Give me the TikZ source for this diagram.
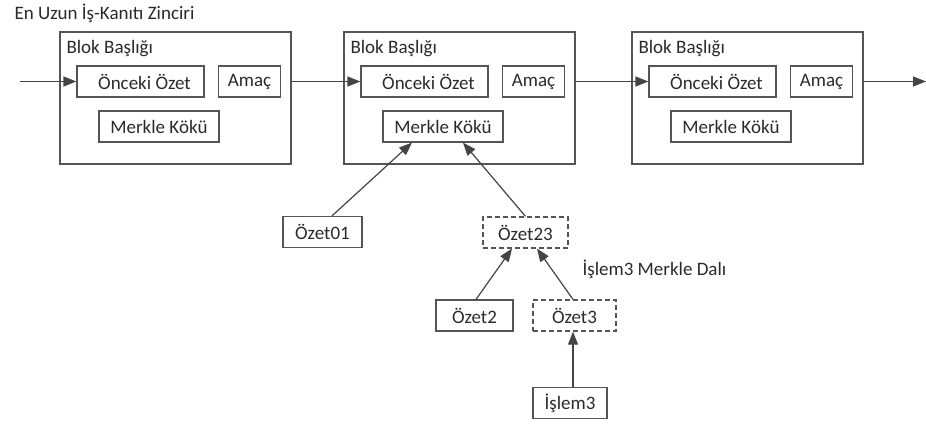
\documentclass[tikz,border=0pt]{standalone}
\usepackage{fontspec}
\setmainfont{Carlito}
\usetikzlibrary{arrows.meta}
\definecolor{edge}{HTML}{555555}
\definecolor{ink}{HTML}{2A2A2A}
\begin{document}
\begin{tikzpicture}[x=1pt,y=-1pt,
  font=\fontsize{19}{21}\selectfont, text=ink,
  box/.style={draw=edge, line width=1.2pt, rectangle, inner sep=0pt, minimum height=31pt},
  dbox/.style={box, dash pattern=on 5pt off 3pt},
  frame/.style={draw=edge, line width=1.2pt, rectangle, inner sep=0pt, minimum width=231pt, minimum height=132pt},
  link/.style={draw=edge!80!black, line width=1.2pt, -{Triangle[length=13pt,width=10pt]}}]
\useasboundingbox (0,0) rectangle (926,423);

\node[anchor=west] (title) at (11,13) {En Uzun İş-Kanıtı Zinciri};

% three block headers of the chain
\foreach \i/\dx in {1/0,2/284,3/572}{
  \node[frame] (b\i) at (175.5+\dx,98) {};
  \node[anchor=west] (h\i) at (63+\dx,49) {Blok Başlığı};
  \node[box, minimum width=127pt] (p\i) at (140.5+\dx,81.5) {\hspace*{8pt}Önceki Özet};
  \node[box, minimum width=62pt] (a\i) at (249.5+\dx,81.5) {Amaç};
  \node[box, minimum width=120pt] (m\i) at (159+\dx,126.5) {Merkle Kökü};
}

% Merkle tree under the middle block
\node[box, minimum width=79pt] (o01) at (322.5,232) {Özet01};
\node[dbox, minimum width=85pt] (o23) at (525.5,232.5) {Özet23};
\node[box, minimum width=77pt] (o2) at (474.5,315.5) {Özet2};
\node[dbox, minimum width=83pt] (o3) at (574.5,315.5) {Özet3};
\node[box, minimum width=74pt] (t3) at (570,403) {İşlem3};
\node[anchor=west] (branch) at (579,269) {İşlem3 Merkle Dalı};

% chain links
\coordinate (in) at (20,81.5);
\coordinate (out) at (926,81.5);
\draw[link] (in) -- (p1.west);
\draw[link] (p2.west -| b1.east) -- (p2.west);
\draw[link] (p3.west -| b2.east) -- (p3.west);
\draw[link] (p3.west -| b3.east) -- (out);

% tree links
\draw[link] ([xshift=9.5pt]o01.north) -- ([xshift=-31pt]m2.south);
\draw[link] (o23.north) -- ([xshift=20pt]m2.south);
\draw[link] ([xshift=1.5pt]o2.north) -- ([xshift=-13.5pt]o23.south);
\draw[link] ([xshift=-1.5pt]o3.north) -- ([xshift=11.5pt]o23.south);
\draw[link] ([xshift=3pt]t3.north) -- ([xshift=3pt]t3.north |- o3.south);
\end{tikzpicture}
\end{document}
